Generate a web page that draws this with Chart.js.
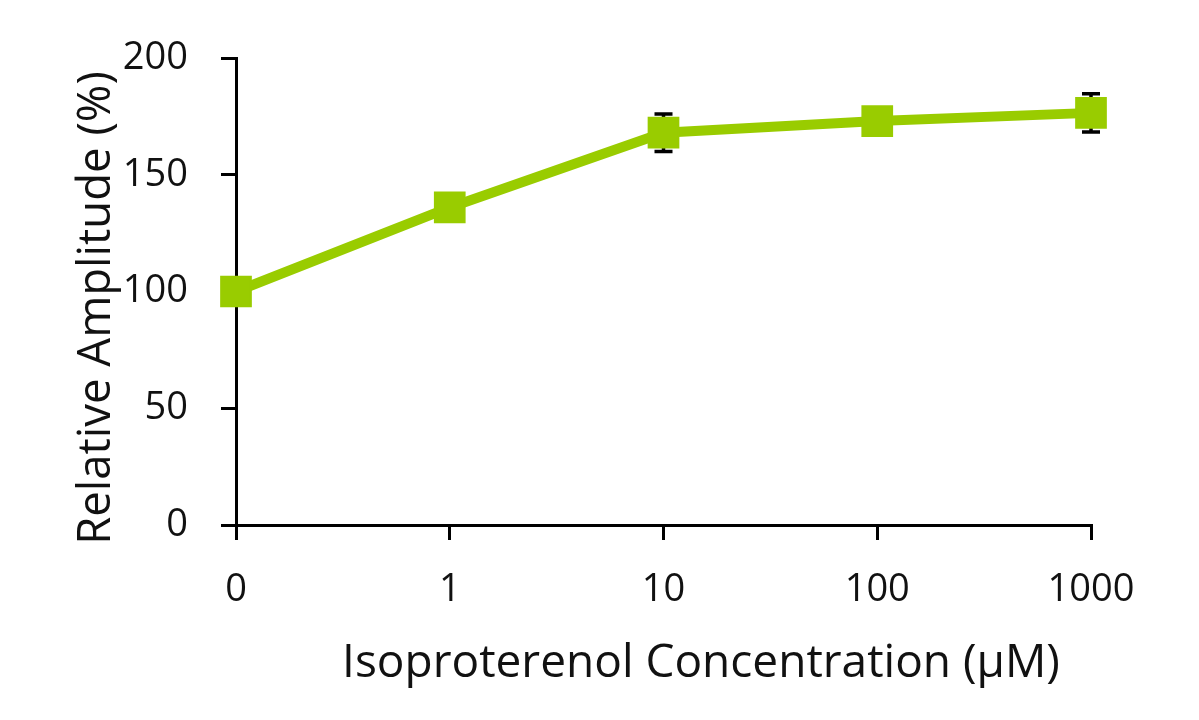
<!DOCTYPE html>
<html>
<head>
<meta charset="utf-8">
<script src="https://cdn.jsdelivr.net/npm/chart.js@4.4.0/dist/chart.umd.min.js"></script>
<style>
  html, body { margin: 0; padding: 0; background: #ffffff; }
  #wrap { width: 1199px; height: 720px; position: relative; }
</style>
</head>
<body>
<div id="wrap"><canvas id="c"></canvas></div>
<script>
// ---- data ----
const categories = ['0', '1', '10', '100', '1000'];
const amplitude = [100, 136, 168, 173, 176.5];
const amplitudeError = [0, 2, 8, 1.5, 8.2];
const yTicks = [0, 50, 100, 150, 200];
const xTitle = 'Isoproterenol Concentration (\u00B5M)';
const yTitle = 'Relative Amplitude (%)';

const GREEN = '#99CC00';
const INK = '#111111';
const FONT = "'Open Sans', 'Noto Sans', sans-serif";

const errorBars = {
  id: 'errorBars',
  beforeDatasetsDraw(chart) {
    const ctx = chart.ctx;
    const meta = chart.getDatasetMeta(0);
    const ys = chart.scales.y;
    ctx.save();
    ctx.strokeStyle = '#000';
    ctx.lineWidth = 3.5;
    meta.data.forEach((pt, i) => {
      const e = amplitudeError[i];
      if (!e) return;
      const x = pt.x;
      const yT = ys.getPixelForValue(amplitude[i] + e);
      const yB = ys.getPixelForValue(amplitude[i] - e);
      ctx.beginPath();
      ctx.moveTo(x, yT); ctx.lineTo(x, yB);
      ctx.moveTo(x - 9, yT); ctx.lineTo(x + 9, yT);
      ctx.moveTo(x - 9, yB); ctx.lineTo(x + 9, yB);
      ctx.stroke();
    });
    ctx.restore();
  }
};

const axisTitles = {
  id: 'axisTitles',
  afterDraw(chart) {
    const ctx = chart.ctx;
    ctx.save();
    ctx.fillStyle = INK;
    ctx.textAlign = 'center';
    ctx.textBaseline = 'alphabetic';
    ctx.font = '46px ' + FONT;
    ctx.fillText(xTitle, 701, 677);
    ctx.translate(110, 308);
    ctx.rotate(-Math.PI / 2);
    ctx.font = '45.5px ' + FONT;
    ctx.fillText(yTitle, 0, 0);
    ctx.restore();
  }
};

new Chart(document.getElementById('c'), {
  type: 'line',
  data: {
    labels: categories,
    datasets: [{
      data: amplitude,
      borderColor: GREEN,
      backgroundColor: GREEN,
      borderWidth: 10,
      pointStyle: 'rect',
      pointRadius: 21,
      pointHoverRadius: 21,
      pointBorderWidth: 2,
      pointBorderColor: GREEN,
      pointBackgroundColor: GREEN,
      tension: 0,
      clip: false
    }]
  },
  options: {
    responsive: true,
    maintainAspectRatio: false,
    animation: false,
    events: [],
    layout: { padding: { left: 0, top: 58, right: 108, bottom: 0 } },
    plugins: { legend: { display: false }, tooltip: { enabled: false } },
    scales: {
      x: {
        type: 'category',
        offset: false,
        grid: { display: true, drawOnChartArea: false, drawTicks: true, tickLength: 15, color: '#000', lineWidth: 3 },
        border: { display: true, color: '#000', width: 3 },
        ticks: { color: INK, font: { family: FONT, size: 38 }, padding: 27, maxRotation: 0, autoSkip: false },
        afterFit(s) { s.height = 195; }
      },
      y: {
        min: 0,
        max: 200,
        afterBuildTicks(s) { s.ticks = yTicks.map(v => ({ value: v })); },
        grid: { display: true, drawOnChartArea: false, drawTicks: true, tickLength: 15, color: '#000', lineWidth: 3 },
        border: { display: true, color: '#000', width: 3 },
        ticks: { color: INK, font: { family: FONT, size: 38 }, padding: 33 },
        afterFit(s) { s.width = 236; }
      }
    }
  },
  plugins: [errorBars, axisTitles]
});
</script>
</body>
</html>
